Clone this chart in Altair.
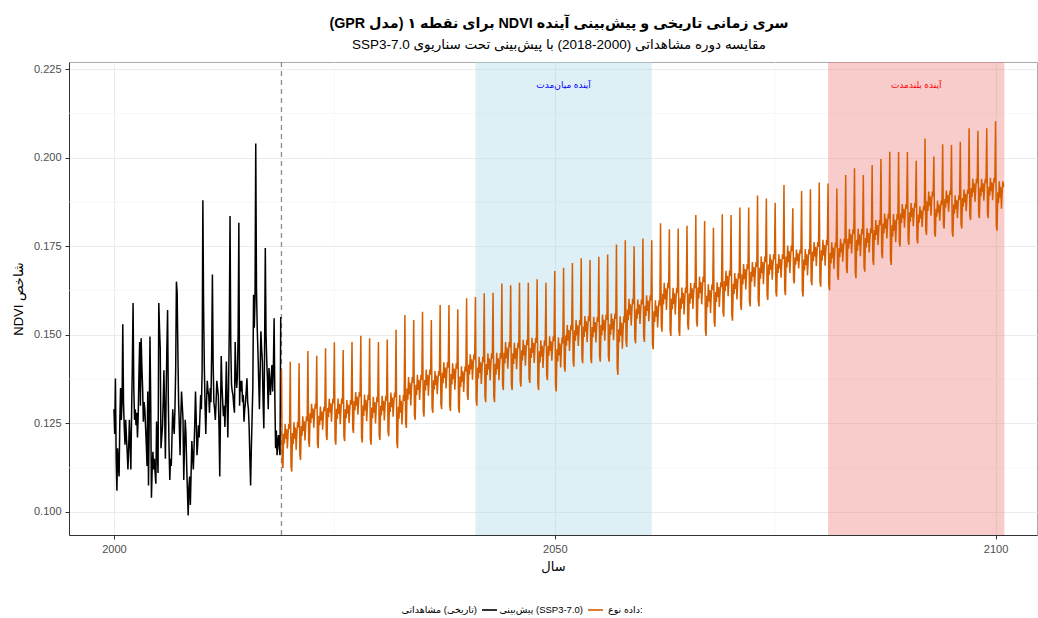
import altair as alt
import pandas as pd

RLE, LRE, PDF, LRM = "\u202b", "\u202a", "\u202c", "\u200e"

def rtl(s):
    return RLE + s + PDF

def ltr(s):
    return LRE + s + PDF

FONT = "Liberation Sans, DejaVu Sans, sans-serif"

OBS = ltr("مشاهداتی" + LRM + " (تاریخی)")
FC = ltr("پیش‌بینی" + LRM + " (SSP3-7.0)")
LEGEND_TITLE = ltr("نوع" + LRM + " داده:")
SERIES = [OBS, FC]
SERIES_COLORS = ["black", "#D55E00"]

hist_values = [
    0.129, 0.122, 0.1377, 0.115, 0.106, 0.118, 0.113, 0.110, 0.126, 0.135, 0.126, 0.131,
    0.153, 0.131, 0.124, 0.119, 0.126, 0.121, 0.117, 0.112, 0.118, 0.126, 0.119, 0.112,
    0.128, 0.141, 0.159, 0.135, 0.126, 0.129, 0.1245, 0.128, 0.121, 0.127, 0.139, 0.148,
    0.130, 0.149, 0.141, 0.135, 0.1255, 0.131, 0.129, 0.124, 0.119, 0.113, 0.134, 0.1075,
    0.126, 0.1495, 0.132, 0.104, 0.112, 0.117, 0.112, 0.115, 0.111, 0.108, 0.1255, 0.118,
    0.111, 0.159, 0.152, 0.146, 0.118, 0.121, 0.124, 0.131, 0.140, 0.128, 0.115, 0.133,
    0.146, 0.157, 0.131, 0.118, 0.109, 0.115, 0.113, 0.121, 0.129, 0.125, 0.122, 0.129,
    0.140, 0.165, 0.162, 0.145, 0.131, 0.124, 0.116, 0.127, 0.134, 0.130, 0.126, 0.109,
    0.118, 0.126, 0.122, 0.113, 0.106, 0.099, 0.107, 0.110, 0.102, 0.111, 0.120, 0.116,
    0.112, 0.118, 0.125, 0.134, 0.126, 0.116, 0.119, 0.1245, 0.121, 0.127, 0.133, 0.129,
    0.140, 0.188, 0.158, 0.141, 0.130, 0.122, 0.131, 0.137, 0.134, 0.133, 0.128, 0.135,
    0.131, 0.145, 0.167, 0.142, 0.131, 0.129, 0.126, 0.131, 0.137, 0.135, 0.133, 0.124,
    0.110, 0.128, 0.144, 0.136, 0.131, 0.127, 0.130, 0.124, 0.132, 0.1425, 0.131, 0.121,
    0.135, 0.152, 0.1835, 0.147, 0.136, 0.134, 0.133, 0.130, 0.128, 0.148, 0.139, 0.135,
    0.138, 0.150, 0.1816, 0.130, 0.137, 0.134, 0.137, 0.131, 0.133, 0.1255, 0.129, 0.131,
    0.134, 0.1377, 0.131, 0.129, 0.124, 0.115, 0.1075, 0.118, 0.1264, 0.135, 0.1613, 0.152,
    0.160, 0.204, 0.163, 0.152, 0.1453, 0.137, 0.129, 0.140, 0.151, 0.146, 0.1425, 0.131,
    0.1236, 0.145, 0.1745, 0.150, 0.1425, 0.137, 0.129, 0.1406, 0.137, 0.133, 0.138, 0.1415,
    0.134, 0.141, 0.1547, 0.132, 0.118, 0.123, 0.116, 0.120, 0.1217, 0.118, 0.116, 0.155,
]

# Forecast: yearly peak and trough (2019 .. 2100)
fc_years = list(range(2019, 2101))
fc_peaks = [
    0.1400, 0.1424, 0.1420, 0.1454, 0.1441, 0.1462, 0.1479, 0.1457, 0.1480, 0.1497,
    0.1490, 0.1480, 0.1487, 0.1514, 0.1556, 0.1542, 0.1565, 0.1542, 0.1584, 0.1584,
    0.1572, 0.1603, 0.1607, 0.1617, 0.1619, 0.1645, 0.1640, 0.1647, 0.1647, 0.1657,
    0.1647, 0.1680, 0.1689, 0.1703, 0.1716, 0.1711, 0.1720, 0.1727, 0.1755, 0.1767,
    0.1750, 0.1772, 0.1767, 0.1815, 0.1798, 0.1800, 0.1808, 0.1838, 0.1821, 0.1802,
    0.1840, 0.1838, 0.1859, 0.1859, 0.1893, 0.1885, 0.1873, 0.1923, 0.1857, 0.1906,
    0.1911, 0.1930, 0.1927, 0.1913, 0.1951, 0.1970, 0.1951, 0.1979, 0.1996, 0.2017,
    0.2016, 0.2016, 0.1991, 0.2054, 0.2003, 0.2038, 0.2036, 0.2045, 0.2083, 0.2076,
    0.2083, 0.2103,
]
fc_troughs = [
    0.1124, 0.1114, 0.1147, 0.1184, 0.1180, 0.1203, 0.1190, 0.1200, 0.1223, 0.1196,
    0.1190, 0.1203, 0.1214, 0.1180, 0.1237, 0.1260, 0.1269, 0.1280, 0.1290, 0.1285,
    0.1280, 0.1316, 0.1300, 0.1310, 0.1310, 0.1344, 0.1344, 0.1354, 0.1364, 0.1344,
    0.1372, 0.1340, 0.1396, 0.1410, 0.1420, 0.1420, 0.1424, 0.1424, 0.1387, 0.1466,
    0.1476, 0.1480, 0.1459, 0.1509, 0.1497, 0.1497, 0.1514, 0.1523, 0.1497, 0.1523,
    0.1551, 0.1540, 0.1570, 0.1580, 0.1580, 0.1598, 0.1608, 0.1612, 0.1645, 0.1608,
    0.1640, 0.1636, 0.1626, 0.1655, 0.1674, 0.1660, 0.1678, 0.1697, 0.1716, 0.1697,
    0.1749, 0.1754, 0.1758, 0.1782, 0.1777, 0.1800, 0.1777, 0.1800, 0.1824, 0.1829,
    0.1829, 0.1794,
]
# position of each month (Jan..Dec) within the year's trough-peak band
season_shape = [1.0, 0.05, 0.0, 0.35, 0.25, 0.45, 0.3, 0.4, 0.2, 0.35, 0.45, 0.4]

rows = []
for i, v in enumerate(hist_values):
    rows.append({"t": 2000 + i / 12, "ndvi": v, "type": OBS})
for k, yr in enumerate(fc_years):
    for m in range(12):
        v = fc_troughs[k] + season_shape[m] * (fc_peaks[k] - fc_troughs[k])
        rows.append({"t": yr + m / 12, "ndvi": v, "type": FC})
df = pd.DataFrame(rows)

regions = pd.DataFrame({
    "start": [2041, 2081],
    "end": [2061, 2101],
    "fill": ["#ADD8E6", "#F08080"],
    "label": [rtl("آینده میان‌مدت"), rtl("آینده بلندمدت")],
    "mid": [2051, 2091],
    "ly": [0.2205, 0.2205],
    "tcolor": ["blue", "red"],
})
split_year = pd.DataFrame({"v": [2019]})
minor_x = pd.DataFrame({"v": [2025, 2075]})
minor_y = pd.DataFrame({"v": [0.1125, 0.1375, 0.1625, 0.1875, 0.2125]})

W, H = 968, 473
x_scale = alt.Scale(domain=[1994.9, 2104.7], nice=False, zero=False)
y_scale = alt.Scale(domain=[0.0935, 0.2270], nice=False, zero=False)

x_axis = alt.Axis(values=[2000, 2050, 2100], format="d", title=rtl("سال"),
                  grid=True, gridColor="#EBEBEB", gridWidth=1.1,
                  domainColor="#333333", tickColor="#333333", tickSize=4,
                  labelColor="#4D4D4D", labelFontSize=11, labelPadding=4,
                  titleFontSize=13, titleFontWeight="normal", titlePadding=6,
                  titleColor="black")
y_axis = alt.Axis(values=[0.1, 0.125, 0.15, 0.175, 0.2, 0.225], format=".3f",
                  title=rtl("شاخص NDVI"),
                  grid=True, gridColor="#EBEBEB", gridWidth=1.1,
                  domainColor="#333333", tickColor="#333333", tickSize=4,
                  labelColor="#4D4D4D", labelFontSize=11, labelPadding=4,
                  titleFontSize=13, titleFontWeight="normal", titlePadding=8,
                  titleColor="black")

def X(field):
    return alt.X(field, scale=x_scale, axis=x_axis)

def Y(field):
    return alt.Y(field, scale=y_scale, axis=y_axis)

grid_x = alt.Chart(minor_x).mark_rule(color="#F2F2F2", strokeWidth=0.6).encode(
    x=X("v:Q"), y=alt.value(0), y2=alt.value(H))
grid_y = alt.Chart(minor_y).mark_rule(color="#F2F2F2", strokeWidth=0.6).encode(
    y=Y("v:Q"), x=alt.value(0), x2=alt.value(W))

rects = alt.Chart(regions).mark_rect(opacity=0.4).encode(
    x=X("start:Q"), x2="end:Q", y=alt.value(0), y2=alt.value(H),
    color=alt.Color("fill:N", scale=None))

vline = alt.Chart(split_year).mark_rule(color="#8C8C8C", strokeDash=[5, 4], strokeWidth=1.3).encode(
    x=X("v:Q"), y=alt.value(0), y2=alt.value(H))

lines = alt.Chart(df).mark_line(strokeWidth=1.5).encode(
    x=X("t:Q"), y=Y("ndvi:Q"),
    color=alt.Color("type:N", scale=alt.Scale(domain=SERIES, range=SERIES_COLORS),
                    legend=None))

labels = alt.Chart(regions).mark_text(fontSize=9, font=FONT).encode(
    x=X("mid:Q"), y=Y("ly:Q"), text="label:N",
    color=alt.Color("tcolor:N", scale=None))

# ---- legend below the x axis (labels left of keys, title at the right) ----
LEG_Y = H + 75
LEG_FS = 9.5
leg_txt_df = pd.DataFrame({"label": [OBS]})
leg_txt_df2 = pd.DataFrame({"label": [FC]})
leg_title_df = pd.DataFrame({"label": [LEGEND_TITLE]})
key_df = pd.DataFrame({"type": SERIES})

leg_l1 = alt.Chart(leg_txt_df).mark_text(align="right", baseline="middle", fontSize=LEG_FS,
                                          color="black", font=FONT).encode(
    text="label:N", x=alt.value(408), y=alt.value(LEG_Y))
leg_k1 = alt.Chart(key_df).transform_filter(alt.datum.type == OBS).mark_rule(
    color=SERIES_COLORS[0], strokeWidth=1.6).encode(
    x=alt.value(413), x2=alt.value(428), y=alt.value(LEG_Y))
leg_l2 = alt.Chart(leg_txt_df2).mark_text(align="right", baseline="middle", fontSize=LEG_FS,
                                           color="black", font=FONT).encode(
    text="label:N", x=alt.value(514), y=alt.value(LEG_Y))
leg_k2 = alt.Chart(key_df).transform_filter(alt.datum.type == FC).mark_rule(
    color=SERIES_COLORS[1], strokeWidth=1.6).encode(
    x=alt.value(519), x2=alt.value(534), y=alt.value(LEG_Y))
leg_t = alt.Chart(leg_title_df).mark_text(align="left", baseline="middle", fontSize=LEG_FS,
                                           color="black", font=FONT).encode(
    text="label:N", x=alt.value(539), y=alt.value(LEG_Y))

title = alt.TitleParams(
    text=rtl("سری زمانی تاریخی و پیش‌بینی آینده NDVI برای نقطه ۱ (مدل GPR)"),
    subtitle=rtl("مقایسه دوره مشاهداتی (2000-2018) با پیش‌بینی تحت سناریوی SSP3-7.0"),
    anchor="middle", fontSize=14.3, fontWeight="bold", subtitleFontSize=13.5,
    subtitleColor="black", color="black", offset=10, subtitlePadding=7, dx=6,
    font=FONT, subtitleFont=FONT)

chart = alt.layer(grid_x, grid_y, rects, vline, lines, labels,
                  leg_l1, leg_k1, leg_l2, leg_k2, leg_t).properties(
    width=W, height=H, title=title,
    autosize=alt.AutoSizeParams(type="none"),
    padding={"left": 69, "top": 62, "right": 1, "bottom": 83},
).configure(font=FONT).configure_view(stroke="#AAAAAA", strokeWidth=1)

chart.save("out.html", embed_options={"renderer": "svg", "actions": False})
